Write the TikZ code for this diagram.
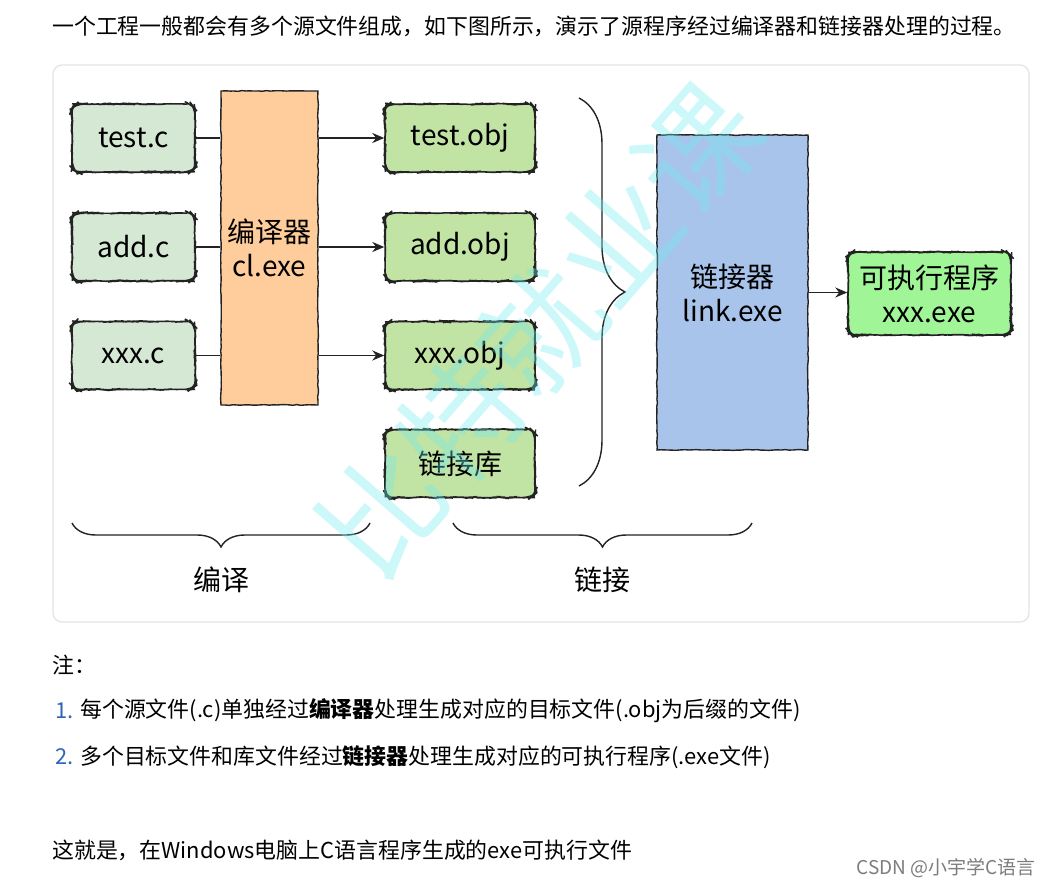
\documentclass[tikz,border=0pt]{standalone}
\usepackage{fontspec}
\setmainfont{Noto Sans CJK SC}
\usepackage{xcolor}
\definecolor{srcgreen}{RGB}{213,232,212}
\definecolor{objgreen}{RGB}{193,227,164}
\definecolor{clorange}{RGB}{255,205,155}
\definecolor{lkblue}{RGB}{169,196,235}
\definecolor{exegreen}{RGB}{160,245,150}
\definecolor{edgegray}{RGB}{35,35,35}
\definecolor{panelgray}{RGB}{228,228,228}
\definecolor{numblue}{RGB}{45,100,190}
\definecolor{markcyan}{RGB}{110,235,240}
\definecolor{signgray}{RGB}{125,125,125}
\usetikzlibrary{arrows.meta,positioning,calc,decorations.pathmorphing,decorations.pathreplacing}
\pgfmathsetseed{11}
\tikzset{
  sketch/.style={decorate,decoration={random steps,segment length=4pt,amplitude=0.4pt}},
  filebox/.style={draw=edgegray,line width=1.4pt,rounded corners=8pt,minimum width=123pt,
    minimum height=68pt,inner sep=0pt,font=\fontsize{28}{34}\selectfont,sketch},
  srcbox/.style={filebox,fill=srcgreen},
  objbox/.style={filebox,fill=objgreen,minimum width=150pt},
  toolbox/.style={draw=edgegray,line width=1.4pt,align=center,inner sep=0pt,
    font=\fontsize{28}{34}\selectfont,sketch},
  link/.style={edgegray,line width=1.6pt},
  arr/.style={link,-{Stealth[length=12pt,width=10pt]}},
  brc/.style={edgegray,line width=1.4pt,decorate,decoration={brace,amplitude=#1}},
  txt/.style={anchor=west,inner sep=0pt,font=\fontsize{21.9}{26}\selectfont},
  blab/.style={inner sep=0pt,font=\fontsize{28}{34}\selectfont},
}
\begin{document}
\begin{tikzpicture}[x=1pt,y=-1pt]
  \fill[white] (0,0) rectangle (1053,889);
  \useasboundingbox (0,0) rectangle (1053,889);
  % einleitung
  \node[txt] (intro) at (52,26) {一个工程一般都会有多个源文件组成，如下图所示，演示了源程序经过编译器和链接器处理的过程。};
  % rahmen
  \draw[panelgray,line width=1.2pt,rounded corners=9pt] (53,65) rectangle (1029,622);
  % quelldateien
  \node[srcbox] (tc) at (133.5,138) {test.c};
  \node[srcbox] (ac) at (133.5,247) {add.c};
  \node[srcbox] (xc) at (133.5,355.5) {xxx.c};
  \node[toolbox,fill=clorange,minimum width=97pt,minimum height=314pt] (cl) at (269.5,248) {编译器\\cl.exe};
  % objektdateien
  \node[objbox] (to) at (460,138) {test.obj};
  \node[objbox] (ao) at (460,247) {add.obj};
  \node[objbox] (xo) at (460,355.5) {xxx.obj};
  \node[objbox] (lib) at (460,463.5) {链接库};
  \foreach \s/\o in {tc/to,ac/ao,xc/xo}{%
    \draw[link] (\s.east) -- (\s.east -| cl.west);
    \draw[arr] (\o.west -| cl.east) -- (\o.west);}
  % linker
  \node[toolbox,fill=lkblue,minimum width=151pt,minimum height=315pt] (lk) at (732.5,292.5) {链接器\\link.exe};
  \node[filebox,fill=exegreen,minimum width=163pt,minimum height=83pt,align=center] (exe) at (929.5,293.5) {可执行程序\\xxx.exe};
  \draw[arr] (lk.east) -- (lk.east -| exe.west);
  % klammern
  \draw[brc=46pt] (579,98) -- (579,486);
  \draw[brc=24pt] (370,523) -- (72,523);
  \draw[brc=24pt] (752,523) -- (453,523);
  \node[blab] (cmp) at (221,580) {编译};
  \node[blab] (lnk) at (602,580) {链接};
  % anmerkungen
  \node[txt] (note) at (52,665) {注：};
  \node[txt,numblue] (n1) at (55,711) {1.};
  \node[txt] (t1) at (80,711) {每个源文件(.c)单独经过{\bfseries 编译器}处理生成对应的目标文件(.obj为后缀的文件)};
  \node[txt,numblue] (n2) at (55,757) {2.};
  \node[txt] (t2) at (80,757) {多个目标文件和库文件经过{\bfseries 链接器}处理生成对应的可执行程序(.exe文件)};
  \node[txt] (fin) at (52,850) {这就是，在Windows电脑上C语言程序生成的exe可执行文件};
  \node[anchor=east,inner sep=0pt,signgray,font=\fontsize{19}{22}\selectfont] (sign) at (1036,868) {CSDN @小宇学C语言};
  % wasserzeichen
  \node[rotate=49,text=markcyan,opacity=0.35,font=\fontsize{120}{120}\selectfont] (wm) at (540,330) {比特就业课};
\end{tikzpicture}
\end{document}
